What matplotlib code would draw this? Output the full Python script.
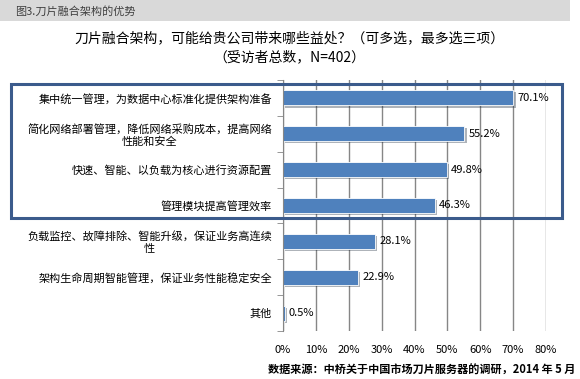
import matplotlib.pyplot as plt
import matplotlib.patheffects as pe
from matplotlib.patches import Rectangle
import numpy as np

plt.rcParams['font.family'] = ['Noto Sans CJK SC', 'DejaVu Sans']

categories = [
    '集中统一管理，为数据中心标准化提供架构准备',
    '简化网络部署管理，降低网络采购成本，提高网络\n性能和安全',
    '快速、智能、以负载为核心进行资源配置',
    '管理模块提高管理效率',
    '负载监控、故障排除、智能升级，保证业务高连续\n性',
    '架构生命周期智能管理，保证业务性能稳定安全',
    '其他',
]
values = [70.1, 55.2, 49.8, 46.3, 28.1, 22.9, 0.5]
xticks = [0, 10, 20, 30, 40, 50, 60, 70, 80]

fig = plt.figure(figsize=(5.8, 3.79), dpi=100)
fig.patch.set_facecolor('white')

# header band
fig.patches.append(Rectangle((0, 1 - 21 / 379), 570 / 580, 21 / 379,
                             transform=fig.transFigure, facecolor='#D9D9D9',
                             edgecolor='none', zorder=0))
fig.text(15 / 580, 1 - 11 / 379, '图3.刀片融合架构的优势', fontsize=8,
         style='italic', color='#404040', va='center', ha='left')

fig.text(289 / 580, 1 - 38 / 379, '刀片融合架构，可能给贵公司带来哪些益处？（可多选，最多选三项）',
         fontsize=10, ha='center', va='center', color='black')
fig.text(289 / 580, 1 - 57 / 379, '（受访者总数，N=402）',
         fontsize=10, ha='center', va='center', color='black')

ax = fig.add_axes([283 / 580, 1 - 331 / 379, 263 / 580, 251 / 379])
y = np.arange(len(values))
bars = ax.barh(y, [v / 100 for v in values], height=0.42, color='#4F81BD',
               edgecolor='white', linewidth=0.6, zorder=3)
for b in bars:
    b.set_path_effects([pe.SimplePatchShadow(offset=(1.5, -1.5), alpha=0.35),
                        pe.Normal()])
for yi, v in zip(y, values):
    ax.text(v / 100 + 0.012, yi, f'{v:.1f}%', va='center', ha='left',
            fontsize=8, color='black', zorder=4)

ax.set_ylim(len(values) - 0.5, -0.5)
ax.set_xlim(0, 0.8)
ax.set_yticks(y)
ax.set_yticklabels(categories, fontsize=8, multialignment='center')
ax.set_yticks(np.arange(len(values) + 1) - 0.5, minor=True)
ax.tick_params(axis='y', which='major', length=0, pad=8)
ax.tick_params(axis='y', which='minor', length=4, color='#868686', direction='out')
ax.set_xticks([t / 100 for t in xticks])
ax.set_xticklabels([f'{t}%' for t in xticks], fontsize=8)
ax.tick_params(axis='x', length=0, pad=10)
ax.grid(axis='x', color='#868686', linewidth=1, zorder=0)
ax.set_axisbelow(True)
for s in ['top', 'right', 'bottom']:
    ax.spines[s].set_visible(False)
ax.spines['left'].set_color('#868686')
ax.spines['left'].set_zorder(5)

# highlight frame
fig.patches.append(Rectangle((11 / 580, 1 - 218 / 379), 551 / 580, 134 / 379,
                             transform=fig.transFigure, facecolor='none',
                             edgecolor='#3B5B8C', linewidth=2.2, zorder=10))

fig.text(575 / 580, 1 - 370 / 379, '数据来源：中桥关于中国市场刀片服务器的调研，2014 年 5 月',
         fontsize=8, style='italic', fontweight='bold', ha='right', va='center')

fig.savefig('out.png', dpi=100)
